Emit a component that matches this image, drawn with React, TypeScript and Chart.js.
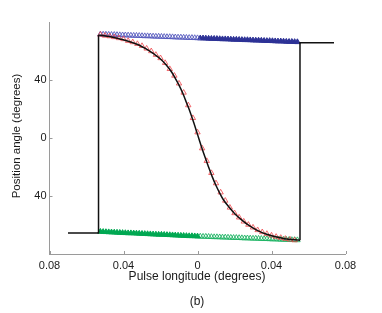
import React, { useEffect, useRef } from "react";
import { Chart, registerables } from "chart.js";

Chart.register(...registerables);

// Axis ticks
const xTickValues = [-0.08, -0.04, 0, 0.04, 0.08];
const yTickValues = [-40, 0, 40];

// Black model curve: step segments and swing
const stepLeftX = [-0.07, -0.0535, -0.0535];
const stepLeftY = [-65.5, -65.5, 71.0];
const stepRightX = [0.0554, 0.0554, 0.0738];
const stepRightY = [-70.5, 65.7, 65.7];
const swingX = [-0.0535, -0.047, -0.042, -0.037, -0.032, -0.028, -0.024, -0.02, -0.017, -0.014, -0.012, -0.01, -0.008, -0.006, -0.004, -0.002, 0, 0.002, 0.004, 0.006, 0.008, 0.01, 0.012, 0.014, 0.017, 0.02, 0.024, 0.028, 0.032, 0.037, 0.042, 0.047, 0.0554];
const swingY = [71.0, 69.8, 68.3, 66.6, 64.3, 61.6, 58.3, 54.5, 50.5, 45.5, 41.2, 36.5, 31.0, 24.5, 18.0, 10.5, 2.5, -5.5, -13.0, -20.0, -26.8, -32.8, -38.0, -42.6, -47.6, -52.0, -56.6, -60.5, -63.5, -66.2, -68.0, -69.5, -70.5];

// Red measured PA points
const redX = [-0.0525, -0.05, -0.0475, -0.045, -0.0425, -0.04, -0.0375, -0.035, -0.0325, -0.03, -0.0275, -0.025, -0.0225, -0.02, -0.0175, -0.015, -0.0125, -0.01, -0.0075, -0.005, -0.0025, 0, 0.0025, 0.005, 0.0075, 0.01, 0.0125, 0.015, 0.0175, 0.02, 0.0225, 0.025, 0.0275, 0.03, 0.0325, 0.035, 0.0375, 0.04, 0.0425, 0.045, 0.0475, 0.05, 0.0525];
const redY = [71.3, 70.6, 70.2, 69.6, 68.9, 68.2, 67.0, 66.1, 64.9, 63.5, 61.7, 59.9, 57.4, 55.1, 51.8, 47.6, 43.0, 37.6, 31.3, 22.6, 13.8, 3.9, -7.1, -15.8, -24.1, -31.2, -37.5, -43.2, -48.0, -51.8, -54.8, -57.6, -59.8, -61.7, -63.5, -64.9, -66.1, -67.2, -68.1, -68.8, -69.5, -70.0, -70.5];

// Blue / green tracks
const trackLeftX = [-0.0525, -0.051, -0.0495, -0.048, -0.0465, -0.045, -0.0435, -0.042, -0.0405, -0.039, -0.0375, -0.036, -0.0345, -0.033, -0.0315, -0.03, -0.0285, -0.027, -0.0255, -0.024, -0.0225, -0.021, -0.0195, -0.018, -0.0165, -0.015, -0.0135, -0.012, -0.0105, -0.009, -0.0075, -0.006, -0.0045, -0.003, -0.0015, 0.0];
const trackRightX = [0.0015, 0.003, 0.0045, 0.006, 0.0075, 0.009, 0.0105, 0.012, 0.0135, 0.015, 0.0165, 0.018, 0.0195, 0.021, 0.0225, 0.024, 0.0255, 0.027, 0.0285, 0.03, 0.0315, 0.033, 0.0345, 0.036, 0.0375, 0.039, 0.0405, 0.042, 0.0435, 0.045, 0.0465, 0.048, 0.0495, 0.051, 0.0525, 0.054];
const blueLeftY = [71.5, 71.4, 71.4, 71.3, 71.2, 71.2, 71.1, 71.0, 70.9, 70.9, 70.8, 70.7, 70.6, 70.6, 70.5, 70.4, 70.3, 70.3, 70.2, 70.1, 70.0, 70.0, 69.9, 69.8, 69.7, 69.7, 69.6, 69.5, 69.4, 69.4, 69.3, 69.2, 69.1, 69.1, 69.0, 68.9];
const blueRightY = [68.8, 68.8, 68.7, 68.6, 68.5, 68.5, 68.4, 68.3, 68.2, 68.2, 68.1, 68.0, 67.9, 67.9, 67.8, 67.7, 67.6, 67.6, 67.5, 67.4, 67.3, 67.3, 67.2, 67.1, 67.0, 67.0, 66.9, 66.8, 66.7, 66.7, 66.6, 66.5, 66.4, 66.4, 66.3, 66.2];
const greenLeftY = [-64.6, -64.7, -64.8, -64.9, -65.0, -65.1, -65.2, -65.3, -65.4, -65.5, -65.6, -65.6, -65.7, -65.8, -65.9, -66.0, -66.1, -66.2, -66.3, -66.4, -66.5, -66.6, -66.6, -66.7, -66.8, -66.9, -67.0, -67.1, -67.2, -67.3, -67.4, -67.5, -67.6, -67.6, -67.7, -67.8];
const greenRightY = [-67.9, -68.0, -68.0, -68.1, -68.2, -68.3, -68.3, -68.4, -68.5, -68.5, -68.6, -68.7, -68.8, -68.8, -68.9, -69.0, -69.1, -69.1, -69.2, -69.3, -69.3, -69.4, -69.5, -69.6, -69.6, -69.7, -69.8, -69.8, -69.9, -70.0, -70.1, -70.1, -70.2, -70.3, -70.3, -70.4];

const zip = (xs: number[], ys: number[]) => xs.map((x, i) => ({ x, y: ys[i] }));

const FONT = "'Liberation Sans', Arial, Helvetica, sans-serif";
const AXIS_COLOR = "#9a9a9a";
const TEXT_COLOR = "#1a1a1a";

const decorPlugin = {
  id: "decor",
  afterDraw(chart: any) {
    const ctx = chart.ctx;
    const xs = chart.scales.x;
    const ys = chart.scales.y;
    const area = chart.chartArea;
    ctx.save();
    ctx.strokeStyle = AXIS_COLOR;
    ctx.lineWidth = 1;
    ctx.beginPath();
    xTickValues.forEach((v) => {
      const px = Math.round(xs.getPixelForValue(v)) + 0.5;
      ctx.moveTo(px, area.bottom);
      ctx.lineTo(px, area.bottom - 3);
    });
    yTickValues.forEach((v) => {
      const py = Math.round(ys.getPixelForValue(v)) + 0.5;
      ctx.moveTo(area.left, py);
      ctx.lineTo(area.left + 3, py);
    });
    ctx.stroke();
    ctx.fillStyle = TEXT_COLOR;
    ctx.textAlign = "center";
    ctx.textBaseline = "middle";
    ctx.font = `12px ${FONT}`;
    ctx.fillText("Pulse longitude (degrees)", 197, 277);
    ctx.fillText("(b)", 197, 302);
    ctx.save();
    ctx.translate(16.5, 136);
    ctx.rotate(-Math.PI / 2);
    ctx.font = `11.5px ${FONT}`;
    ctx.fillText("Position angle (degrees)", 0, 0);
    ctx.restore();
    ctx.restore();
  },
};

export default function App() {
  const ref = useRef<HTMLCanvasElement | null>(null);
  useEffect(() => {
    document.body.style.margin = "0";
    if (!ref.current) return;
    const lineDs = (xs: number[], ys: number[], cubic: boolean) => ({
      type: "line" as const,
      data: zip(xs, ys),
      borderColor: "#111111",
      borderWidth: 1.5,
      pointRadius: 0,
      fill: false,
      cubicInterpolationMode: cubic ? ("monotone" as const) : ("default" as const),
      tension: 0,
      order: 0,
    });
    const markerDs = (xs: number[], ys: number[], color: string, filled: boolean, order: number, r: number) => ({
      type: "scatter" as const,
      data: zip(xs, ys),
      pointStyle: "triangle",
      pointRadius: r,
      borderWidth: 1,
      borderColor: color,
      backgroundColor: filled ? color : "rgba(255,255,255,0)",
      showLine: false,
      order,
    });
    const chart = new Chart(ref.current, {
      type: "scatter",
      data: {
        datasets: [
          lineDs(stepLeftX, stepLeftY, false),
          lineDs(stepRightX, stepRightY, false),
          lineDs(swingX, swingY, true),
          markerDs(redX, redY, "rgba(238,70,75,0.8)", false, 1, 3.1),
          markerDs(trackLeftX, blueLeftY, "rgba(85,90,190,0.9)", false, 2, 3.2),
          markerDs(trackRightX, blueRightY, "rgb(45,50,150)", true, 2, 3.2),
          markerDs(trackLeftX, greenLeftY, "rgb(0,168,82)", true, 2, 3.2),
          markerDs(trackRightX, greenRightY, "rgba(30,180,100,0.9)", false, 2, 3.2),
        ] as any,
      },
      options: {
        animation: false,
        responsive: false,
        maintainAspectRatio: false,
        layout: { padding: { left: 0, top: 22, right: 36.5, bottom: 0 } },
        plugins: { legend: { display: false }, tooltip: { enabled: false }, title: { display: false } },
        scales: {
          x: {
            type: "linear",
            min: -0.08,
            max: 0.08,
            grid: { display: false, drawTicks: false },
            border: { display: true, color: AXIS_COLOR, width: 1 },
            afterBuildTicks: (s: any) => {
              s.ticks = xTickValues.map((v) => ({ value: v }));
            },
            afterFit: (s: any) => {
              s.height = 59;
            },
            ticks: {
              padding: 5,
              color: TEXT_COLOR,
              font: { family: FONT, size: 11 },
              maxRotation: 0,
              callback: (v: any) => (Number(v) === 0 ? "0" : Math.abs(Number(v)).toFixed(2)),
            },
          },
          y: {
            type: "linear",
            min: -80,
            max: 80,
            grid: { display: false, drawTicks: false },
            border: { display: true, color: AXIS_COLOR, width: 1 },
            afterBuildTicks: (s: any) => {
              s.ticks = yTickValues.map((v) => ({ value: v }));
            },
            afterFit: (s: any) => {
              s.width = 49.5;
            },
            ticks: {
              padding: 3,
              color: TEXT_COLOR,
              font: { family: FONT, size: 11 },
              callback: (v: any) => String(Math.abs(Number(v))),
            },
          },
        },
      },
      plugins: [decorPlugin],
    });
    return () => chart.destroy();
  }, []);
  return (
    <div style={{ position: "fixed", left: 0, top: 0, width: 382, height: 313, background: "#fff" }}>
      <canvas ref={ref} width={382} height={313} style={{ width: 382, height: 313, display: "block" }} />
    </div>
  );
}
